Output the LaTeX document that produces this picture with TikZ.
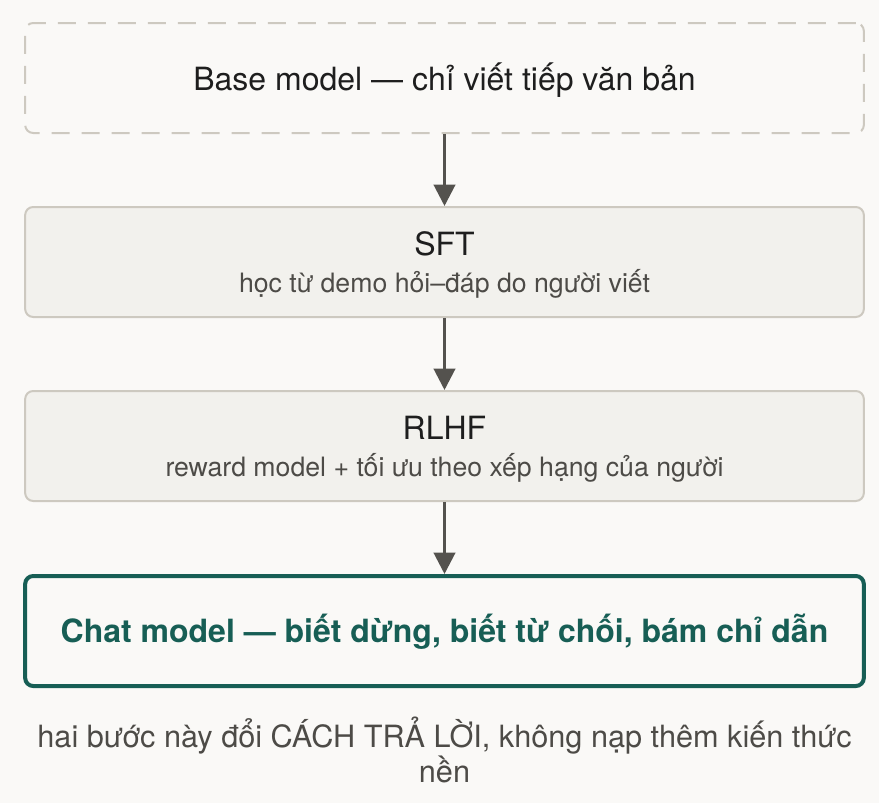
\documentclass[tikz,border=0pt]{standalone}
\usepackage{fontspec}
\setmainfont{TeX Gyre Heros}
\usepackage{xcolor}
\usetikzlibrary{arrows.meta}

\definecolor{paper}{HTML}{FAF9F7}
\definecolor{boxline}{HTML}{CDC9C0}
\definecolor{boxfill}{HTML}{F2F1ED}
\definecolor{inkdark}{HTML}{1E1E1E}
\definecolor{inkgray}{HTML}{4D4B47}
\definecolor{arrowgray}{HTML}{54524E}
\definecolor{tealdark}{HTML}{175E55}

\begin{document}
\begin{tikzpicture}[
  x=0.75pt, y=-0.75pt,
  stage/.style={draw=boxline, line width=1.5pt, fill=boxfill, rounded corners=6pt,
    minimum width=629pt, minimum height=82.5pt, inner sep=0pt},
  basebox/.style={stage, fill=paper, dash pattern=on 13.5pt off 9pt},
  chatbox/.style={stage, draw=tealdark, line width=3pt, fill=paper},
  title/.style={anchor=base, text=inkdark, font=\fontsize{24}{28}\selectfont},
  subtitle/.style={anchor=base, text=inkgray, font=\fontsize{20}{24}\selectfont},
  note/.style={anchor=base, text=inkgray, font=\fontsize{23}{27}\selectfont},
  flow/.style={->, draw=arrowgray, line width=2.25pt},
  >={Triangle[length=16pt, width=16pt]}
]
  \fill[paper] (0,0) rectangle (879,803);

  % Stages, top to bottom
  \node[basebox] (base) at (444.5, 78)  {};
  \node[stage]   (sft)  at (444.5, 262) {};
  \node[stage]   (rlhf) at (444.5, 446) {};
  \node[chatbox] (chat) at (444.5, 631) {};

  % Texts
  \node[title] (base text) at (444.5, 90) {Base model — chỉ viết tiếp văn bản};
  \node[title] (sft title) at (444.5, 255) {SFT};
  \node[subtitle] (sft sub) at (444.5, 292) {học từ demo hỏi–đáp do người viết};
  \node[title] (rlhf title) at (444.5, 439) {RLHF};
  \node[subtitle] (rlhf sub) at (444.5, 476) {reward model + tối ưu theo xếp hạng của người};
  \node[title, text=tealdark, font=\fontsize{24}{28}\selectfont\bfseries] (chat text) at (444.5, 642)
    {Chat model — biết dừng, biết từ chối, bám chỉ dẫn};

  % Footnote under the pipeline
  \node[note] (note one) at (444.5, 747) {hai bước này đổi CÁCH TRẢ LỜI, không nạp thêm kiến thức};
  \node[note] (note two) at (444.5, 782) {nền};

  % Arrows between stages
  \draw[flow] (base) -- (sft);
  \draw[flow] (sft) -- (rlhf);
  \draw[flow] (rlhf) -- (chat);
\end{tikzpicture}
\end{document}
